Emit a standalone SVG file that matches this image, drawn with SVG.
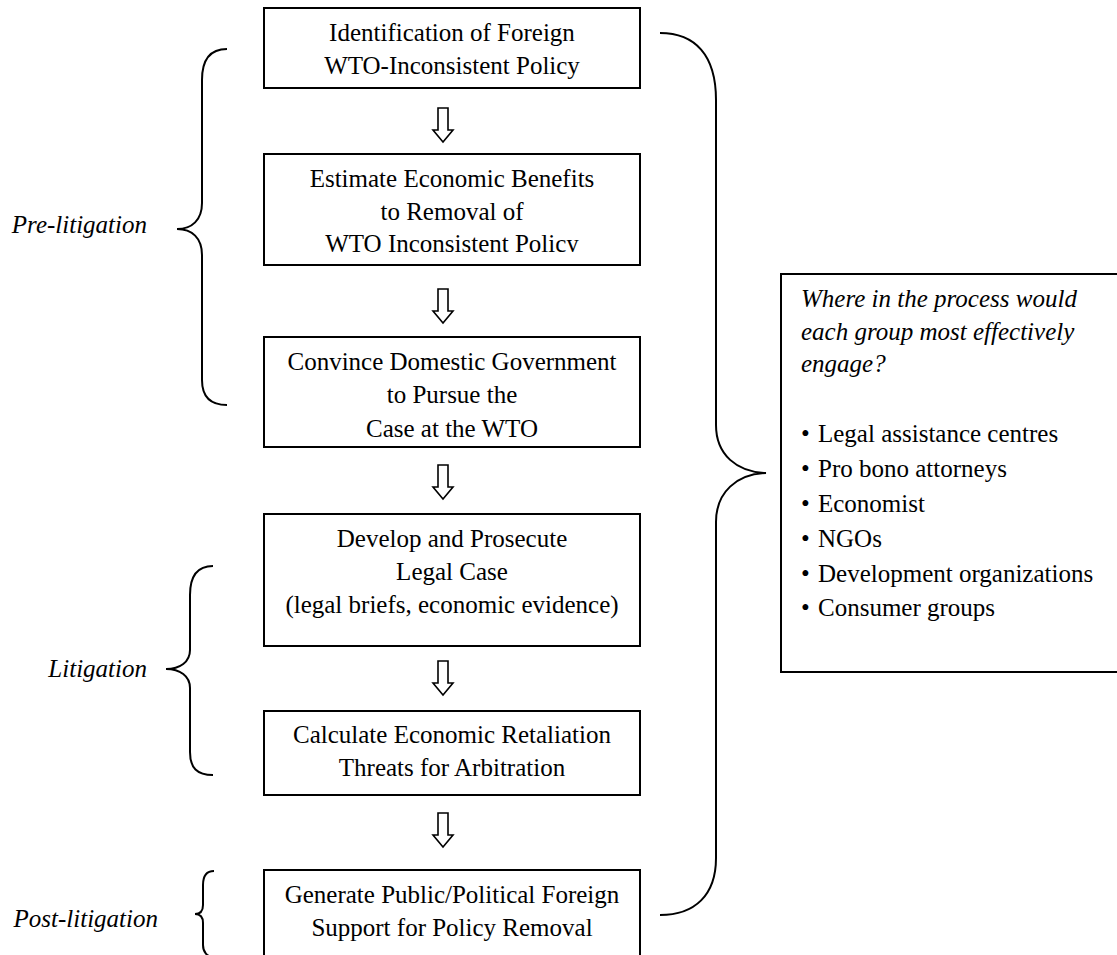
<svg xmlns="http://www.w3.org/2000/svg" width="1117" height="955" viewBox="0 0 1117 955" font-family="'Liberation Serif', LiberationSerif, Tinos, 'Times New Roman', Times, 'DejaVu Serif', serif">
<style>
.box{fill:#fff;stroke:#000;stroke-width:2}
.t{font-family:'Liberation Serif', LiberationSerif, Tinos, 'Times New Roman', Times, 'DejaVu Serif', serif;font-size:25px;fill:#000}
.c{text-anchor:middle}
.i{font-style:italic}
.br{fill:none;stroke:#000;stroke-width:2}
.ar{fill:#fff;stroke:#000;stroke-width:1.6;stroke-linejoin:miter}
</style>
<defs>
<clipPath id="clip2"><rect x="264" y="154" width="376" height="98"/></clipPath>
<path id="arrow" class="ar" d="M-5,0 H5 V22 H10 L0,34 L-10,22 H-5 Z"/>
</defs>
<rect width="1117" height="955" fill="#fff"/>

<g id="connectors">
<use href="#arrow" x="443" y="108"/>
<use href="#arrow" x="443" y="289"/>
<use href="#arrow" x="443" y="465"/>
<use href="#arrow" x="443" y="661"/>
<use href="#arrow" x="443" y="813"/>
</g>

<g id="node1">
<rect class="box" x="264" y="8" width="376" height="80"/>
<text class="t c" x="452" y="41">Identification of Foreign</text>
<text class="t c" x="452" y="74">WTO-Inconsistent Policy</text>
</g>

<g id="node2">
<rect class="box" x="264" y="154" width="376" height="111"/>
<g clip-path="url(#clip2)">
<text class="t c" x="452" y="187">Estimate Economic Benefits</text>
<text class="t c" x="452" y="220">to Removal of</text>
<text class="t c" x="452" y="252">WTO Inconsistent Policy</text>
</g>
</g>

<g id="node3">
<rect class="box" x="264" y="337" width="376" height="110"/>
<text class="t c" x="452" y="370">Convince Domestic Government</text>
<text class="t c" x="452" y="403">to Pursue the</text>
<text class="t c" x="452" y="437">Case at the WTO</text>
</g>

<g id="node4">
<rect class="box" x="264" y="514" width="376" height="132"/>
<text class="t c" x="452" y="547">Develop and Prosecute</text>
<text class="t c" x="452" y="580">Legal Case</text>
<text class="t c" x="452" y="613">(legal briefs, economic evidence)</text>
</g>

<g id="node5">
<rect class="box" x="264" y="711" width="376" height="84"/>
<text class="t c" x="452" y="743">Calculate Economic Retaliation</text>
<text class="t c" x="452" y="776">Threats for Arbitration</text>
</g>

<g id="node6">
<rect class="box" x="264" y="870" width="376" height="100"/>
<text class="t c" x="452" y="903">Generate Public/Political Foreign</text>
<text class="t c" x="452" y="936">Support for Policy Removal</text>
</g>

<g id="node7">
<rect class="box" x="781" y="274" width="360" height="398"/>
<text class="t i" x="801" y="307">Where in the process would</text>
<text class="t i" x="801" y="340">each group most effectively</text>
<text class="t i" x="801" y="372">engage?</text>
<text class="t" x="801" y="442">•</text><text class="t" x="818" y="442">Legal assistance centres</text>
<text class="t" x="801" y="477">•</text><text class="t" x="818" y="477">Pro bono attorneys</text>
<text class="t" x="801" y="512">•</text><text class="t" x="818" y="512">Economist</text>
<text class="t" x="801" y="547">•</text><text class="t" x="818" y="547">NGOs</text>
<text class="t" x="801" y="582">•</text><text class="t" x="818" y="582">Development organizations</text>
<text class="t" x="801" y="616">•</text><text class="t" x="818" y="616">Consumer groups</text>
</g>

<g id="pre-litigation">
<path class="br" d="M227,49 C210,49 202,60 202,80 V203 C202,220 192,229 177,229 C192,229 202,238 202,255 V380 C202,397 210,405 227,405"/>
<text class="t i" x="147" y="233" text-anchor="end">Pre-litigation</text>
</g>

<g id="litigation">
<path class="br" d="M213,566 C197,566 190,576 190,595 V650 C190,662 180,669 166,669 C180,669 190,676 190,688 V752 C190,768 197,775 213,775"/>
<text class="t i" x="147" y="677" text-anchor="end">Litigation</text>
</g>

<g id="post-litigation">
<path class="br" d="M214,871 C207,871 203,876 203,885 V905 C203,911 200,914 195,914 C200,914 203,917 203,923 V945 C203,952 207,957 214,957"/>
<text class="t i" x="158" y="927" text-anchor="end">Post-litigation</text>
</g>

<g id="groups-brace">
<path class="br" d="M660,33 C695,33 716,55 716,100 V425 C716,455 737,472 766,473 C737,474 716,492 716,522 V858 C716,895 695,915 660,915"/>
</g>
</svg>
